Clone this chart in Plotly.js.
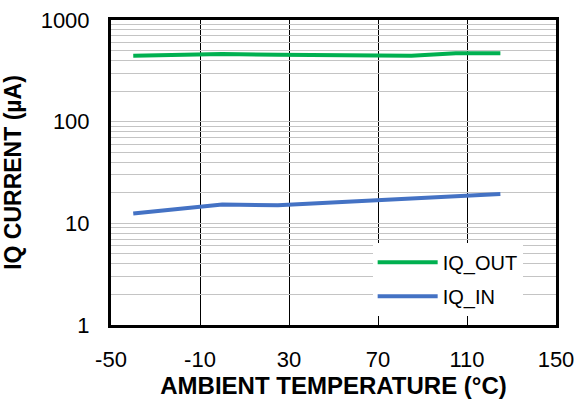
<!DOCTYPE html>
<html>
<head>
<meta charset="utf-8">
<script src="https://cdn.plot.ly/plotly-3.0.1.min.js"></script>
<style>
html,body{margin:0;padding:0;background:#fff;}
#chart{width:579px;height:400px;}
</style>
</head>
<body>
<div id="chart"></div>
<script>
// Data
var temperature = [-40, -20, 0, 25, 50, 85, 105, 125];
var iqOut = [444, 452, 462, 456, 450, 444, 470, 472];
var iqIn = [12.5, 13.8, 15.3, 15.1, 16.1, 17.5, 18.5, 19.4];

var xTickVals = [-50, -10, 30, 70, 110, 150];
var xTickText = ['-50', '-10', '30', '70', '110', '150'];
var yDecades = [1, 10, 100, 1000];
var yMinorDigits = [1, 2, 3, 4, 5, 6, 7, 8, 9];

var yTickVals = [];
var yTickText = [];
yDecades.forEach(function (d) {
  if (d === 1000) { yTickVals.push(1000); yTickText.push('1000'); return; }
  yMinorDigits.forEach(function (k) {
    yTickVals.push(k * d);
    yTickText.push(k === 1 ? String(d) : '');
  });
});

var font = 'Liberation Sans, Arial, sans-serif';

var traces = [
  {
    x: temperature, y: iqOut, name: 'IQ_OUT', mode: 'lines',
    line: {color: '#00b050', width: 4}, legendgroup: 'a'
  },
  {
    x: temperature, y: iqIn, name: 'IQ_IN', mode: 'lines',
    line: {color: '#4472c4', width: 4}, legendgroup: 'b'
  }
];

var layout = {
  width: 579, height: 400,
  margin: {l: 111, r: 23, t: 20, b: 75, pad: 0},
  paper_bgcolor: '#fff', plot_bgcolor: '#fff',
  font: {family: font, color: '#000'},
  showlegend: true,
  legend: {
    x: 0.588, y: 0.27, xanchor: 'left', yanchor: 'top',
    bgcolor: '#fff', borderwidth: 0,
    font: {family: font, size: 20, color: '#000'},
    traceorder: 'grouped', tracegroupgap: 5,
    itemwidth: 60
  },
  xaxis: {
    range: [-50, 150], tickmode: 'array', tickvals: xTickVals, ticktext: xTickText,
    showgrid: true, gridcolor: '#000', gridwidth: 1, zeroline: false,
    showline: true, mirror: true, linewidth: 3, linecolor: '#000',
    ticks: '', tickfont: {family: font, size: 22, color: '#000'},
    ticklabelstandoff: 13,
    title: {text: '<b>AMBIENT TEMPERATURE (°C)</b>', font: {family: font, size: 24, color: '#000'}, standoff: 6}
  },
  yaxis: {
    type: 'log', range: [0, 3], tickmode: 'array', tickvals: yTickVals, ticktext: yTickText,
    showgrid: true, gridcolor: '#c4c4c4', gridwidth: 1, zeroline: false,
    showline: true, mirror: true, linewidth: 3, linecolor: '#000',
    ticks: '', tickfont: {family: font, size: 22, color: '#000'},
    ticklabelstandoff: 14,
    title: {text: '<b>IQ CURRENT (µA)</b>', font: {family: font, size: 23, color: '#000'}, standoff: 14}
  }
};

Plotly.newPlot('chart', traces, layout, {staticPlot: true, displayModeBar: false});
</script>
</body>
</html>
